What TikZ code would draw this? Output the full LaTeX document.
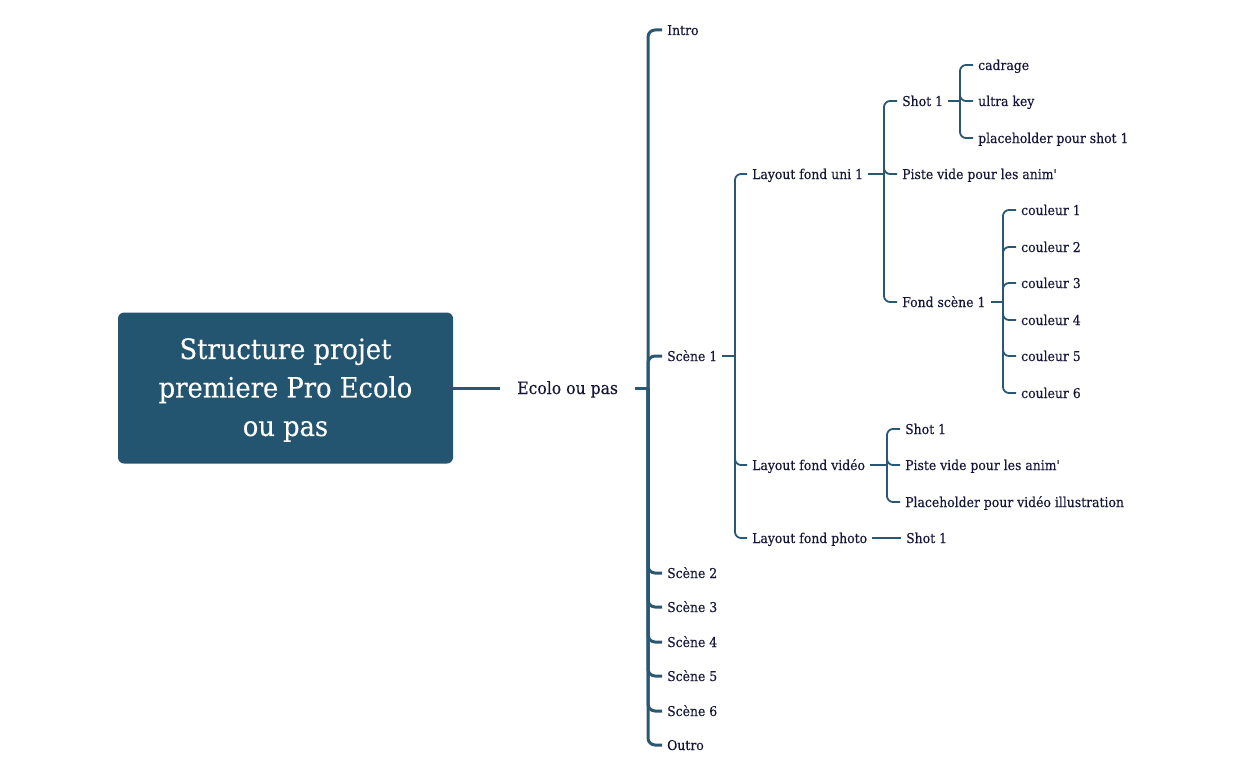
\documentclass[tikz,border=0pt]{standalone}
\usepackage{fontspec}
\setmainfont{DejaVu Serif}[FakeStretch=0.92,FakeBold=0.3,Ligatures=TeXOff]
\definecolor{boxc}{HTML}{245570}
\definecolor{linec}{HTML}{2A5873}
\definecolor{txtc}{HTML}{16163A}
\begin{document}
\begin{tikzpicture}[x=1pt,y=-1pt,
  leaf/.style={anchor=west, inner xsep=5pt, inner ysep=0pt, text height=12pt, text depth=2pt,
    font=\fontsize{13.5}{16}\selectfont, text=txtc},
  lvl1/.style={draw=linec, line width=3pt, rounded corners=7pt},
  lvl2/.style={draw=linec, line width=1.8pt, rounded corners=6pt}]
\useasboundingbox (0,0) rectangle (1254,776);
% root
\node[fill=boxc, rounded corners=6pt, minimum width=335pt, minimum height=151pt] (root) at (285.5,388) {};
\node[text=white, align=center, font=\fontsize{28}{38.5}\selectfont] (roottxt) at ([yshift=-2pt]root.center) {Structure projet\\premiere Pro Ecolo\\ou pas};
\node[leaf, font=\fontsize{17}{19}\selectfont, inner xsep=17pt, text height=14pt, text depth=2pt] (eco) at (500,388) {Ecolo ou pas};
\draw[lvl1] (root.east) -- (eco.west);
% level 1
\coordinate (j0) at (648,388);
\draw[lvl1] (eco.east) -- (j0);
\node[leaf] (intro) at (662,30) {Intro};
\node[leaf] (s1) at (662,356) {Scène 1};
\node[leaf] (s2) at (662,573) {Scène 2};
\node[leaf] (s3) at (662,607) {Scène 3};
\node[leaf] (s4) at (662,642) {Scène 4};
\node[leaf] (s5) at (662,676) {Scène 5};
\node[leaf] (s6) at (662,711) {Scène 6};
\node[leaf] (outro) at (662,745) {Outro};
\foreach \c in {intro,s1,s2,s3,s4,s5,s6,outro}{\draw[lvl1] (j0) |- (\c.west);}
% scene 1
\coordinate (j1) at (735,356);
\draw[lvl2] (s1.east) -- (j1);
\node[leaf] (lu) at (747,174) {Layout fond uni 1};
\node[leaf] (lv) at (747,465) {Layout fond vidéo};
\node[leaf] (lp) at (747,538) {Layout fond photo};
\foreach \c in {lu,lv,lp}{\draw[lvl2] (j1) |- (\c.west);}
% layout fond uni 1
\coordinate (j2) at (884,174);
\draw[lvl2] (lu.east) -- (j2);
\node[leaf] (sh1) at (897,101) {Shot 1};
\node[leaf] (pv1) at (897,174) {Piste vide pour les anim'};
\node[leaf] (fs1) at (897,302) {Fond scène 1};
\foreach \c in {sh1,pv1,fs1}{\draw[lvl2] (j2) |- (\c.west);}
% shot 1
\coordinate (j3) at (960,101);
\draw[lvl2] (sh1.east) -- (j3);
\node[leaf] (cad) at (973,65) {cadrage};
\node[leaf] (uk) at (973,101) {ultra key};
\node[leaf] (ph1) at (973,138) {placeholder pour shot 1};
\foreach \c in {cad,uk,ph1}{\draw[lvl2] (j3) |- (\c.west);}
% fond scene 1
\coordinate (j4) at (1003,302);
\draw[lvl2] (fs1.east) -- (j4);
\node[leaf] (c1) at (1016,210) {couleur 1};
\node[leaf] (c2) at (1016,247) {couleur 2};
\node[leaf] (c3) at (1016,283) {couleur 3};
\node[leaf] (c4) at (1016,320) {couleur 4};
\node[leaf] (c5) at (1016,356) {couleur 5};
\node[leaf] (c6) at (1016,393) {couleur 6};
\foreach \c in {c1,c2,c3,c4,c5,c6}{\draw[lvl2] (j4) |- (\c.west);}
% layout fond video
\coordinate (j5) at (887,465);
\draw[lvl2] (lv.east) -- (j5);
\node[leaf] (vs1) at (900,429) {Shot 1};
\node[leaf] (vpv) at (900,465) {Piste vide pour les anim'};
\node[leaf] (vph) at (900,502) {Placeholder pour vidéo illustration};
\foreach \c in {vs1,vpv,vph}{\draw[lvl2] (j5) |- (\c.west);}
% layout fond photo
\node[leaf] (ps1) at (901,538) {Shot 1};
\draw[lvl2] (lp.east) -- (ps1.west);
\end{tikzpicture}
\end{document}
